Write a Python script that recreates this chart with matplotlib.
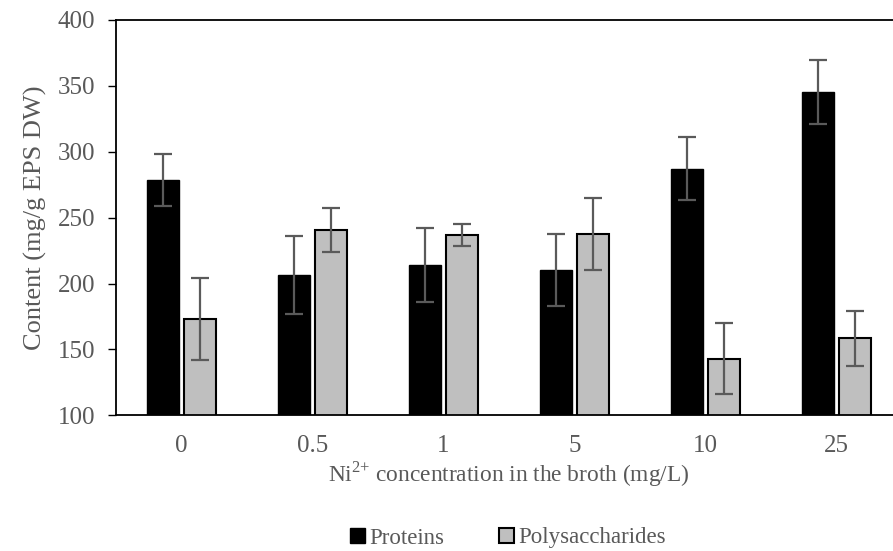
import numpy as np
import matplotlib
matplotlib.use("Agg")
import matplotlib.pyplot as plt

# values
categories = ["0", "0.5", "1", "5", "10", "25"]
proteins = [278.6, 206.5, 214.0, 210.3, 287.2, 345.6]
proteins_err = [20.0, 29.5, 28.0, 27.6, 24.0, 24.3]
polysaccharides = [173.0, 240.7, 236.6, 237.4, 143.0, 158.4]
polysaccharides_err = [31.0, 17.0, 8.3, 27.2, 27.0, 21.0]

plt.rcParams["font.family"] = ["Liberation Serif", "DejaVu Serif"]
plt.rcParams["mathtext.fontset"] = "custom"
plt.rcParams["mathtext.rm"] = "Liberation Serif"
text_color = "#595959"
err_color = "#5a5a5a"

fig = plt.figure(figsize=(8.93, 5.51), dpi=100)
# right spine falls just past the image edge, as in the reference
ax = fig.add_axes([116 / 893, 1 - 415.3 / 551, 786 / 893, 395.3 / 551])

x = np.arange(len(categories))
w = 0.24
off = 0.142
ax.bar(x - off, proteins, w, color="black", edgecolor="black",
       linewidth=1.0, label="Proteins", zorder=2)
ax.bar(x + off, polysaccharides, w, color="#bfbfbf", edgecolor="black",
       linewidth=1.5, label="Polysaccharides", zorder=2)
ax.errorbar(x - off, proteins, yerr=proteins_err, fmt="none", ecolor=err_color,
            elinewidth=1.6, capsize=6.5, capthick=1.6, zorder=3)
ax.errorbar(x + off, polysaccharides, yerr=polysaccharides_err, fmt="none",
            ecolor=err_color, elinewidth=1.6, capsize=6.5, capthick=1.6, zorder=3)

ax.set_xlim(-0.5, len(categories) - 0.5)
ax.set_ylim(100, 400)
ax.set_yticks(np.arange(100, 401, 50))
ax.set_xticks(x)
ax.set_xticklabels(categories)
ax.tick_params(axis="x", length=0, pad=14, labelsize=18, labelcolor=text_color)
ax.tick_params(axis="y", length=6, width=1.0, direction="out", pad=9,
               labelsize=18, labelcolor=text_color)
for s in ax.spines.values():
    s.set_linewidth(1.3)
    s.set_color("black")

ax.set_ylabel("Content (mg/g EPS DW)", fontsize=19, color=text_color, labelpad=8)
ax.set_xlabel(r"Ni$^{\mathrm{2{+}}}$ concentration in the broth (mg/L)",
              fontsize=16.8, color=text_color, labelpad=2)

fig.legend(loc="center", bbox_to_anchor=(508 / 893, 1 - 538 / 551), ncol=2,
           frameon=False, prop={"family": "Liberation Serif", "size": 16.5},
           labelcolor=text_color,
           handlelength=0.65, handleheight=0.65, handletextpad=0.2,
           columnspacing=2.4)

fig.savefig("out.png", dpi=100)
